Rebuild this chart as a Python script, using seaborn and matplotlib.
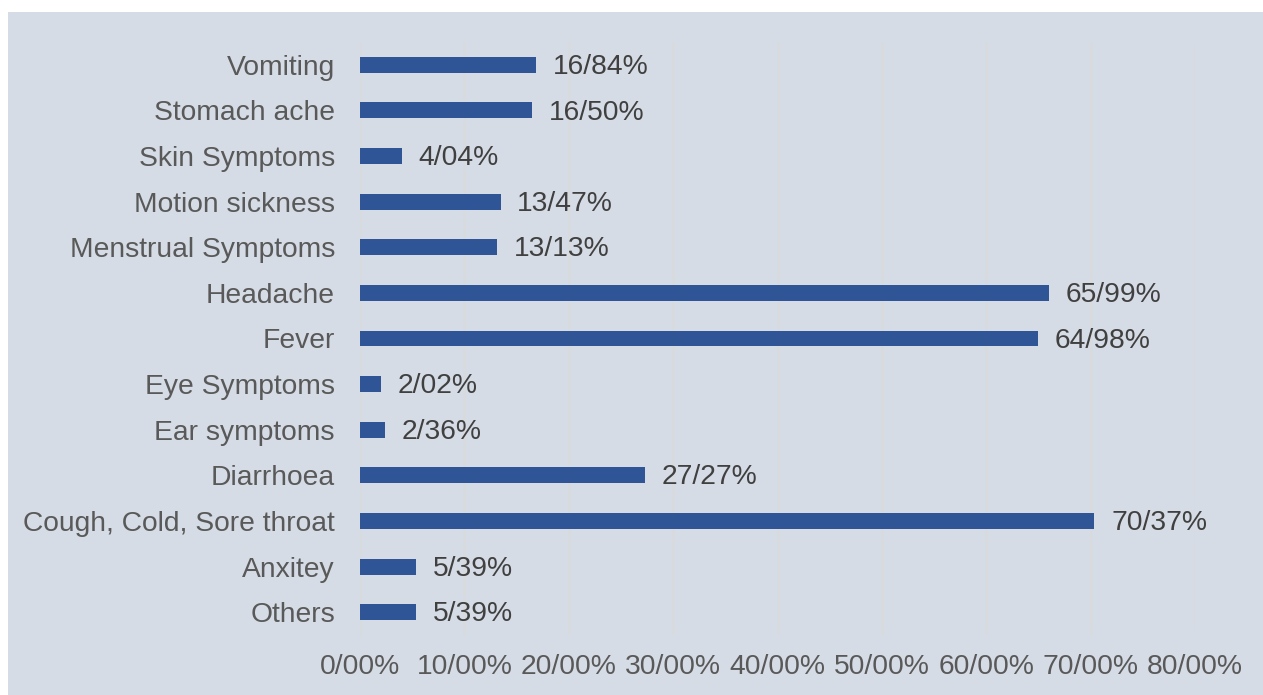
import matplotlib
matplotlib.use("Agg")
import matplotlib.pyplot as plt
import seaborn as sns
import pandas as pd
from matplotlib.patches import Rectangle
from matplotlib.ticker import FuncFormatter

categories = ["Vomiting", "Stomach ache", "Skin Symptoms", "Motion sickness",
              "Menstrual Symptoms", "Headache", "Fever", "Eye Symptoms",
              "Ear symptoms", "Diarrhoea", "Cough, Cold, Sore throat",
              "Anxitey", "Others"]
values = [16.84, 16.50, 4.04, 13.47, 13.13, 65.99, 64.98, 2.02, 2.36,
          27.27, 70.37, 5.39, 5.39]
x_ticks = [0, 10, 20, 30, 40, 50, 60, 70, 80]

df = pd.DataFrame({"symptom": categories, "pct": values})

sns.set_theme(style="white")
plt.rcParams["font.family"] = ["Liberation Sans", "DejaVu Sans"]

bg = "#D6DCE5"
fig = plt.figure(figsize=(12.63, 6.95), dpi=100)
fig.patch.set_facecolor("white")
fig.patches.append(Rectangle((8 / 1263, 0), 1 - 8 / 1263, 1 - 12 / 695,
                             transform=fig.transFigure, facecolor=bg,
                             edgecolor="none", zorder=-10))

ax = fig.add_axes([360 / 1263, 1 - 635 / 695, (1195 - 360) / 1263, (635 - 42) / 695])
ax.set_facecolor("none")

sns.barplot(data=df, x="pct", y="symptom", orient="h", color="#2F5597",
            width=0.35, saturation=1, linewidth=0, ax=ax, zorder=3)

for cont in ax.containers:
    texts = ax.bar_label(cont, labels=[f"{v:.2f}%".replace(".", "/") for v in values],
                         padding=12, fontsize=20.3, color="#404040")
    for t in texts:
        t.xyann = (12, -1.5)

ax.set_xlim(0, 80)
ax.set_ylim(12.5, -0.5)
ax.set_xticks(x_ticks)
ax.xaxis.set_major_formatter(FuncFormatter(lambda v, p: f"{v:.2f}%".replace(".", "/")))
ax.grid(axis="x", color="#DADADA", lw=1, zorder=0)
ax.grid(axis="y", visible=False)
for s in ax.spines.values():
    s.set_visible(False)
ax.set_xlabel("")
ax.set_ylabel("")
ax.tick_params(axis="x", labelsize=20.3, labelcolor="#595959", length=0, pad=14)
ax.tick_params(axis="y", labelsize=20.3, labelcolor="#595959", length=0, pad=18)

fig.savefig("out.png", dpi=100, facecolor="white")
